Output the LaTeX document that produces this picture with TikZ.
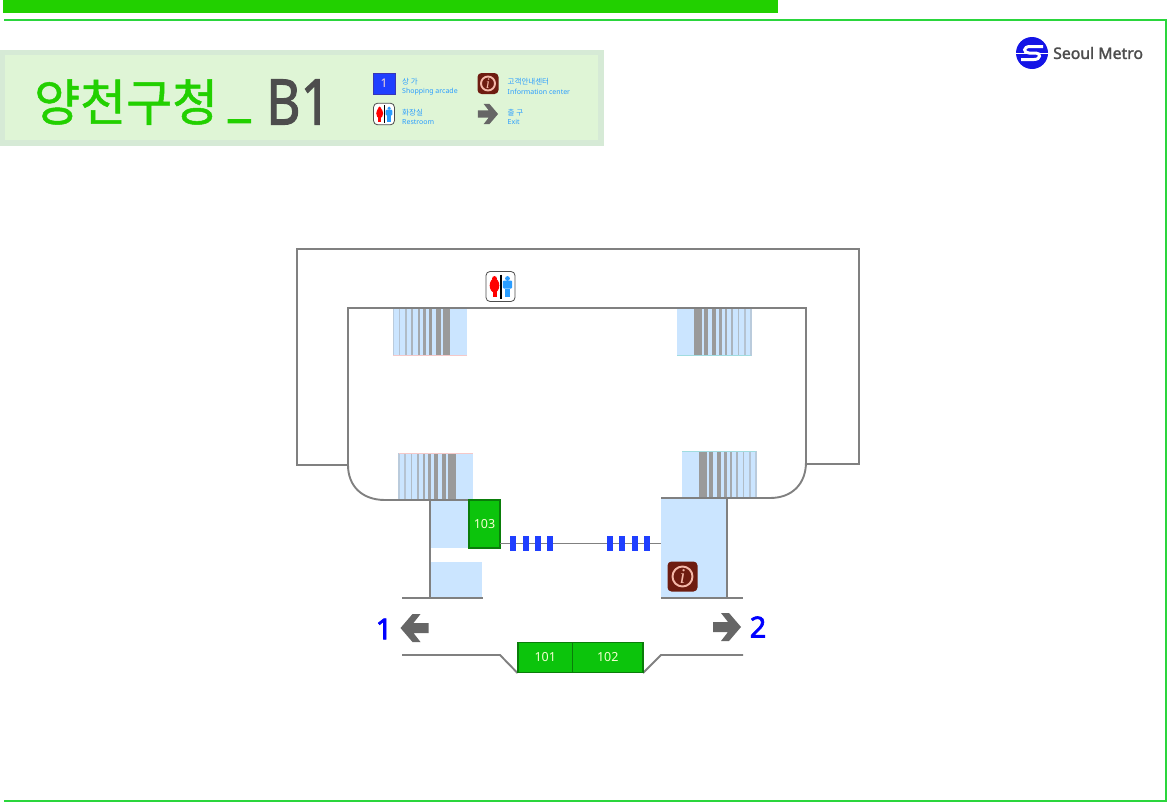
\documentclass[tikz,border=0pt]{standalone}
\usepackage{fontspec}
\setmainfont{Noto Sans}
\newfontfamily\korfont[FakeBold=1]{Noto Sans CJK KR}
\newfontfamily\korsmall{Noto Sans CJK KR}
\newfontfamily\heavyfont[FakeBold=2.4]{Noto Sans}
\newfontfamily\logofont[FakeBold=1.8]{Noto Sans}
\definecolor{linegreen}{HTML}{2AD63C}
\definecolor{barcolor}{HTML}{22D000}
\definecolor{panelout}{HTML}{D6EAD6}
\definecolor{panelin}{HTML}{DFF5D6}
\definecolor{wallgray}{HTML}{808080}
\definecolor{stairblue}{HTML}{CBE5FF}
\definecolor{stripegray}{HTML}{9A9A9A}
\definecolor{stairpink}{HTML}{F5C8C8}
\definecolor{stairteal}{HTML}{A0DCE0}
\definecolor{shopgreen}{HTML}{0CC40C}
\definecolor{shopedge}{HTML}{0A7D0A}
\definecolor{shoptext}{HTML}{F4FFD0}
\definecolor{infobrown}{HTML}{6E1C10}
\definecolor{infopink}{HTML}{F5B8A8}
\definecolor{marineblue}{HTML}{1F3FFF}
\definecolor{legendblue}{HTML}{2A9DFF}
\definecolor{arrowgray}{HTML}{666666}
\definecolor{logoblue}{HTML}{1414E6}
\definecolor{textgray}{HTML}{4D4D4D}
\tikzset{
	wall/.style={draw=wallgray,line width=1.9pt},
	shopbox/.style={draw=shopedge,fill=shopgreen,line width=1.8pt},
	shoplabel/.style={text=shoptext,font=\fontsize{12.5}{12.5}\selectfont},
	legendtext/.style={text=legendblue,anchor=west,inner sep=0pt,font=\fontsize{7}{7}\selectfont},
	legendkor/.style={text=legendblue,anchor=west,inner sep=0pt,font=\korsmall\fontsize{7.5}{7.5}\selectfont},
	exitlabel/.style={text=blue,inner sep=0pt,font=\heavyfont\fontsize{29}{29}\selectfont},
	exitarrow/.pic={
		\fill[arrowgray] (-14,-5) -- (1,-5) -- (-6,-14) -- (2,-14) -- (14,0) -- (2,14)
			-- (-6,14) -- (1,5) -- (-14,5) -- cycle;
	},
	infoicon/.pic={
		\fill[infobrown,rounded corners=4pt] (-15,-15) rectangle (15,15);
		\draw[infopink,line width=1.9pt] (0,0) circle (10);
		\node[transform shape,text=infopink,inner sep=0pt,font=\fontsize{21}{21}\selectfont] (-infomark) at (0,0) {\fontspec{Liberation Serif}\itshape i};
	},
	restroomicon/.pic={
		\draw[fill=white,draw=textgray,line width=.8pt,rounded corners=4pt] (-14.5,-15) rectangle (14.5,15);
		\draw[black,line width=1.1pt] (.5,-12) -- (.5,12);
		% red figure
		\fill[red] (-6,-8) circle (2.4);
		\fill[red] (-6,-1) ellipse (4.8 and 7);
		\fill[red] (-8,2) rectangle (-4,10.5);
		% blue figure
		\fill[legendblue] (7,-8) circle (2.4);
		\fill[legendblue,rounded corners=1pt] (2.3,-6) rectangle (11.7,2);
		\fill[legendblue] (4.5,2) rectangle (9.5,10.5);
	}
}
% one stair flight, #1 = thick end, #2 = top, #3 = bottom, #4 = direction, #5 = edge, #6 = edge colour
\newcommand{\stairflight}[6]{
	\fill[stairblue] ({#1-17*#4},#2) rectangle ({#1+57*#4},#3);
	\foreach \first/\second/\tone in {0/7.5/100,9.5/14/100,18/21.5/100,24.5/27.5/90,30.5/32.5/80,37/39/65,43.5/45/55,50/51.5/45,56/57.5/35}
		\fill[stripegray!\tone!stairblue] ({#1+\first*#4},#2) rectangle ({#1+\second*#4},#3);
	\draw[#6,line width=.8pt] ({#1-17*#4},#5) -- ({#1+57*#4},#5);
}
\begin{document}
\begin{tikzpicture}[x=1pt,y=-1pt]
	\useasboundingbox (0,0) rectangle (1167,803);
	% frame
	\fill[barcolor] (3,0) rectangle (778,13);
	\draw[linegreen,line width=2.2pt] (4,19.7) -- (1165.6,19.7) -- (1165.6,801) -- (4,801);
	% title panel
	\fill[panelout] (0,50) rectangle (604,146);
	\fill[panelin] (5,55) rectangle (598,140);
	\node[anchor=west,inner sep=0pt,text=barcolor,font=\korfont\fontsize{50}{50}\selectfont] (titlename) at (34,102) {양천구청};
	\node[anchor=west,inner sep=0pt,text=barcolor,font=\heavyfont\fontsize{50}{50}\selectfont] (titlebar) at (228,119) {\_};
	\node[anchor=west,inner sep=0pt,text=textgray,xscale=.84,font=\logofont\fontsize{63}{63}\selectfont] (titlefloor) at (266,102) {B1};
	% legend
	\draw[fill=marineblue,draw=infobrown!30!marineblue,line width=.6pt] (373,73) rectangle (395,94) node[midway,text=infopink!50!white,inner sep=0pt,font=\fontsize{12}{12}\selectfont] (legendshop) {1};
	\node[legendkor] (legendshopkor) at (402,82) {상 가};
	\node[legendtext] (legendshopeng) at (402,92) {Shopping arcade};
	\pic[scale=.7] at (488,83.5) {infoicon};
	\node[legendkor] (legendinfokor) at (507.5,82) {고객안내센터};
	\node[legendtext] (legendinfoeng) at (507.5,92) {Information center};
	\pic[scale=.72] at (384,114) {restroomicon};
	\node[legendkor] (legendrestkor) at (402,113) {화장실};
	\node[legendtext] (legendresteng) at (402,122) {Restroom};
	\pic[scale=.72] at (488,114) {exitarrow};
	\node[legendkor] (legendexitkor) at (507.5,113) {출 구};
	\node[legendtext] (legendexiteng) at (507.5,122) {Exit};
	% logo
	\fill[logoblue] (1032,53) circle (16);
	\draw[white,line width=3pt] (1043,46.5) -- (1030,46.5) .. controls (1023,46.5) and (1023,53) .. (1029,53) -- (1036,53) .. controls (1041,53) and (1041,59.5) .. (1034,59.5) -- (1021,59.5);
	\draw[white,line width=.7pt] (1016,53) -- (1048,53);
	\node[anchor=west,inner sep=0pt,text=textgray,font=\logofont\fontsize{15.8}{15.8}\selectfont] (logotext) at (1053,53) {Seoul Metro};
	% light floor areas
	\fill[stairblue] (431,500) rectangle (469,548);
	\fill[stairblue] (431,562) rectangle (482,598);
	\fill[stairblue] (661,498) rectangle (727,598);
	% stairs
	\stairflight{450}{308}{356}{-1}{355.6}{stairpink}
	\stairflight{694}{308}{356}{1}{355.6}{stairteal}
	\stairflight{455.5}{453}{500}{-1}{453.4}{stairpink}
	\stairflight{699}{451}{498}{1}{451.4}{stairteal}
	% walls
	\draw[wall] (348,465) -- (297,465) -- (297,249) -- (859,249) -- (859,464) -- (806,464);
	\draw[wall] (469,500) -- (385,500) .. controls (362,500) and (348,486) .. (348,465) -- (348,308) -- (806,308)
		-- (806,462) .. controls (806,484) and (792,498) .. (770,498) -- (661,498);
	\draw[wall] (430,500) -- (430,598);
	\draw[wall] (402,598) -- (482.5,598);
	\draw[wall] (727,498) -- (727,598);
	\draw[wall] (661,598) -- (743,598);
	\draw[wall] (402,655) -- (500,655) -- (517.5,673);
	\draw[wall] (643,673) -- (661,655) -- (743,655);
	% shops
	\draw[shopbox] (469,500) rectangle ++(31,48) node[midway,shoplabel] (shopthree) {103};
	\draw[shopbox] (518,642.5) rectangle ++(54.5,30) node[midway,shoplabel] (shopone) {101};
	\draw[shopbox] (572.5,642.5) rectangle ++(70.5,30) node[midway,shoplabel] (shoptwo) {102};
	% passage marks
	\coordinate (passageleft) at (500,543.5);
	\coordinate (passageright) at (661,543.5);
	\draw[wallgray,line width=.7pt] (passageleft) -- (passageright);
	\foreach \markx in {510,522.5,535,547,606.5,619,632,644}
		\fill[marineblue] (\markx,536) rectangle ++(6.3,15);
	% icons
	\pic at (682.5,576.5) {infoicon};
	\pic at (500.5,286.5) {restroomicon};
	% exits
	\pic[xscale=-1] at (414.5,628) {exitarrow};
	\pic at (727,627) {exitarrow};
	\node[exitlabel] (exitone) at (384,629) {1};
	\node[exitlabel] (exittwo) at (758,627) {2};
\end{tikzpicture}
\end{document}
